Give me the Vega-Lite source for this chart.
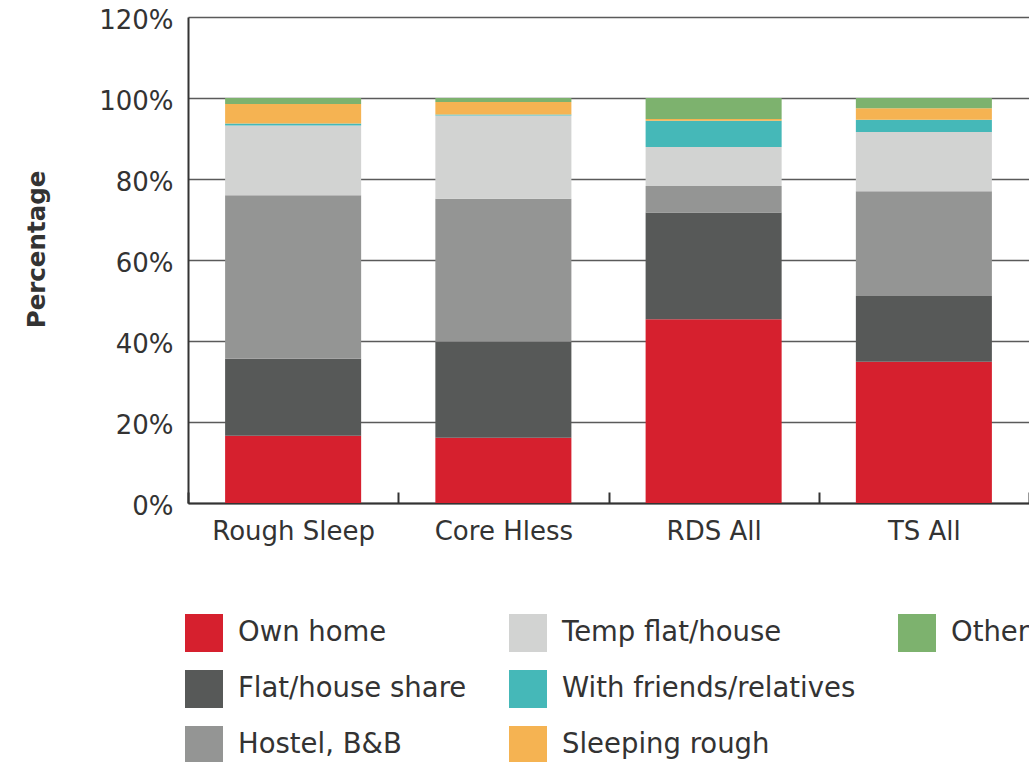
{
  "$schema": "https://vega.github.io/schema/vega-lite/v6.json",
  "width": 841,
  "height": 486,
  "autosize": "none",
  "padding": {"left": 188, "top": 17, "right": 0, "bottom": 259},
  "background": "#ffffff",
  "config": {
    "view": {"stroke": null},
    "font": "DejaVu Sans"
  },
  "data": {
    "values": [
      {"group": "Rough Sleep", "location": "Own home", "pct": 16.6},
      {"group": "Rough Sleep", "location": "Flat/house share", "pct": 19.0},
      {"group": "Rough Sleep", "location": "Hostel, B&B", "pct": 40.4},
      {"group": "Rough Sleep", "location": "Temp flat/house", "pct": 17.2},
      {"group": "Rough Sleep", "location": "With friends/relatives", "pct": 0.5},
      {"group": "Rough Sleep", "location": "Sleeping rough", "pct": 4.8},
      {"group": "Rough Sleep", "location": "Other", "pct": 1.5},
      {"group": "Core Hless", "location": "Own home", "pct": 16.1},
      {"group": "Core Hless", "location": "Flat/house share", "pct": 23.7},
      {"group": "Core Hless", "location": "Hostel, B&B", "pct": 35.3},
      {"group": "Core Hless", "location": "Temp flat/house", "pct": 20.6},
      {"group": "Core Hless", "location": "With friends/relatives", "pct": 0.2},
      {"group": "Core Hless", "location": "Sleeping rough", "pct": 3.1},
      {"group": "Core Hless", "location": "Other", "pct": 1.0},
      {"group": "RDS All", "location": "Own home", "pct": 45.4},
      {"group": "RDS All", "location": "Flat/house share", "pct": 26.3},
      {"group": "RDS All", "location": "Hostel, B&B", "pct": 6.6},
      {"group": "RDS All", "location": "Temp flat/house", "pct": 9.6},
      {"group": "RDS All", "location": "With friends/relatives", "pct": 6.5},
      {"group": "RDS All", "location": "Sleeping rough", "pct": 0.4},
      {"group": "RDS All", "location": "Other", "pct": 5.2},
      {"group": "TS All", "location": "Own home", "pct": 34.9},
      {"group": "TS All", "location": "Flat/house share", "pct": 16.2},
      {"group": "TS All", "location": "Hostel, B&B", "pct": 25.9},
      {"group": "TS All", "location": "Temp flat/house", "pct": 14.6},
      {"group": "TS All", "location": "With friends/relatives", "pct": 3.0},
      {"group": "TS All", "location": "Sleeping rough", "pct": 2.9},
      {"group": "TS All", "location": "Other", "pct": 2.5}
    ]
  },
  "transform": [
    {"calculate": "indexof(['Own home', 'Flat/house share', 'Hostel, B&B', 'Temp flat/house', 'With friends/relatives', 'Sleeping rough', 'Other'], datum.location)", "as": "stackOrder"}
  ],
  "mark": {"type": "bar", "width": {"band": 0.647}},
  "encoding": {
    "x": {
      "field": "group",
      "type": "nominal",
      "sort": ["Rough Sleep", "Core Hless", "RDS All", "TS All"],
      "scale": {"paddingInner": 0, "paddingOuter": 0},
      "axis": {
        "title": null,
        "labelAngle": 0,
        "labelFont": "DejaVu Sans",
        "labelFontSize": 26,
        "labelColor": "#333333",
        "labelBaseline": "alphabetic",
        "labelPadding": 47,
        "tickBand": "extent",
        "ticks": true,
        "tickSize": -11,
        "tickColor": "#333333",
        "tickWidth": 2,
        "domainColor": "#333333",
        "domainWidth": 2,
        "grid": false
      }
    },
    "y": {
      "field": "pct",
      "type": "quantitative",
      "stack": "zero",
      "scale": {"domain": [0, 120], "nice": false},
      "axis": {
        "title": "Percentage",
        "titleFont": "DejaVu Sans",
        "titleFontSize": 24.5,
        "titleFontWeight": "bold",
        "titleColor": "#333333",
        "titleX": -144,
        "titleY": 232,
        "titleBaseline": "alphabetic",
        "values": [0, 20, 40, 60, 80, 100, 120],
        "labelExpr": "datum.value + '%'",
        "labelFont": "DejaVu Sans",
        "labelFontSize": 26,
        "labelColor": "#333333",
        "labelPadding": 15,
        "labelOffset": 3,
        "ticks": false,
        "tickSize": 0,
        "domainColor": "#333333",
        "domainWidth": 2,
        "grid": true,
        "gridColor": "#5a5a5a",
        "gridWidth": 1.6
      }
    },
    "order": {"field": "stackOrder", "type": "quantitative", "sort": "ascending"},
    "color": {
      "field": "location",
      "type": "nominal",
      "scale": {
        "domain": ["Own home", "Flat/house share", "Hostel, B&B", "Temp flat/house", "With friends/relatives", "Sleeping rough", "Other", " "],
        "range": ["#D6202E", "#575958", "#949594", "#D2D3D2", "#45B8B8", "#F5B352", "#7DB26E", "#ffffff"]
      },
      "legend": {
        "title": null,
        "orient": "none",
        "legendX": -3,
        "legendY": 597,
        "columns": 3,
        "padding": 0,
        "symbolType": "square",
        "symbolSize": 1444,
        "symbolStrokeWidth": 0,
        "symbolOpacity": 1,
        "labelFont": "DejaVu Sans",
        "labelFontSize": 27.5,
        "labelColor": "#333333",
        "labelOffset": 15,
        "labelLimit": 500,
        "rowPadding": 18,
        "columnPadding": 42
      }
    }
  }
}
